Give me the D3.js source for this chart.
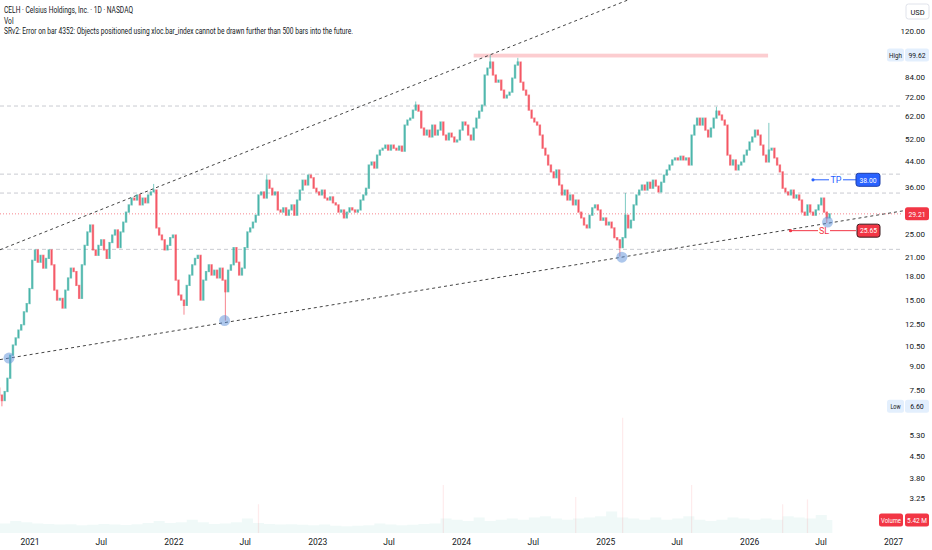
<!DOCTYPE html>
<html><head><meta charset="utf-8">
<script src="https://cdn.jsdelivr.net/npm/d3@7"></script>
<style>body{margin:0;background:#fff}svg{display:block}text{font-family:Roboto,"Liberation Sans",sans-serif;fill:#131722}</style>
</head><body><svg id="c" width="932" height="550"></svg>
<script>
// ---------- DATA ----------
const weekStart = "2020-10-16";
const firstOpen = 7.6;
const closes = [
 7.2,6.9,7.4,8.2,9.8,10.6,11.2,11.9,12.4,13.7,14.6,16.4,20.4,22.1,20.1,21.2,19.2,20.7,22.1,19.7,
 16.2,15.0,15.2,14.1,16.2,17.8,19.2,18.7,16.8,15.2,19.7,22.9,25.4,26.8,22.1,21.2,22.9,23.9,22.1,20.7,
 23.4,24.8,25.8,22.5,25.4,27.4,29.6,31.3,33.0,32.5,33.8,31.3,33.0,31.8,33.8,34.6,35.1,26.2,24.8,23.9,
 22.1,22.9,24.3,24.8,17.5,15.6,15.0,14.4,16.8,18.2,19.7,20.7,21.2,15.0,17.5,18.7,19.7,18.2,18.9,17.8,
 19.2,17.5,16.0,18.9,19.7,22.5,20.1,18.2,19.2,22.5,25.4,26.2,27.4,28.9,33.8,34.6,33.0,37.9,35.6,33.8,
 34.6,30.1,29.6,30.6,28.9,30.1,31.3,28.9,32.5,35.1,37.9,36.5,39.4,38.6,35.6,34.6,33.8,35.1,33.0,32.5,
 33.3,31.8,31.3,29.6,30.1,28.3,29.6,30.6,30.1,29.6,30.1,32.5,33.8,35.6,42.6,43.6,41.6,46.0,47.8,48.5,
 49.7,47.8,49.7,48.5,47.8,49.3,47.4,58.0,60.3,61.2,65.1,67.7,64.6,56.7,53.7,55.8,52.9,58.0,53.7,55.8,
 59.4,53.7,51.7,54.5,52.9,50.9,51.7,55.8,59.4,58.0,53.7,51.7,56.7,61.2,64.6,67.7,85.4,90.1,94.4,85.4,
 80.8,82.1,76.0,71.5,73.1,74.8,83.4,92.2,94.4,80.8,76.0,73.1,65.1,61.2,59.4,58.0,53.7,48.5,46.0,42.6,
 40.4,38.6,41.0,36.5,33.8,35.1,32.5,33.8,31.3,32.5,29.6,28.3,26.8,26.2,28.9,30.6,31.3,30.1,27.8,28.3,
 26.8,27.4,26.2,24.3,23.9,22.5,24.3,28.9,26.2,27.8,31.3,33.8,35.1,36.5,35.1,37.3,35.6,37.9,36.2,34.6,
 37.3,39.4,41.0,42.6,44.3,45.0,44.3,45.6,44.3,45.0,42.6,53.7,58.0,61.2,58.0,61.2,55.8,52.9,56.7,61.2,
 64.6,62.7,60.3,58.0,46.0,42.6,44.3,41.0,42.6,43.6,46.0,47.8,50.9,52.9,55.8,53.7,49.7,46.0,43.6,47.8,
 48.5,45.0,42.6,40.4,35.6,34.6,33.8,35.1,33.0,33.8,32.5,29.6,28.9,31.3,29.6,28.9,30.1,31.3,33.0,29.6,
 28.3,29.21
];
const lowWeeks = [1, 67, 82, 225, 300];
const lowValues = [6.60, 13.4, 12.8, 21.0, 27.2];
const highWeeks = [56, 97, 151, 178, 188, 227, 260, 279];
const highValues = [36.8, 39.5, 69.6, 99.62, 97.5, 34.3, 66.8, 59.0];

// volume (millions), 4-week blocks from weekStart
const volBlocks = [
 4,5,4.5,4,3.8,3.5,3.6,3.2,3.4,3.8,3.5,3.3,3.6,4.2,
 5,4.2,4.5,5.5,4.5,3.8,4,4.5,6,4.2,3.8,3.5,3.6,
 3.4,3.2,3.5,3,2.8,3,3.2,4,3.5,3.2,3.4,3.8,4,
 6,5.5,5,6.5,5,5.5,6,5.5,6.5,7,6,5.5,6,
 6.5,7,9,6.5,6,5.5,6.5,5.5,6,7,5.5,5,5.5,
 6.5,6,5.5,6,5.5,7,6.5,6,7.5,5.42
];
const volSpikeDates = ["2022-08-05","2023-11-17","2024-10-18","2025-02-14","2025-08-08","2026-03-27","2026-05-29"];
const volSpikeValues = [12, 20, 15, 48, 20, 12, 14];
const lastVolume = "5.42 M";

const yTicks = [120,84,72,62,52,44,36,25,21,18,15,12.5,10.5,9,7.5,5.3,4.5,3.8,3.25];
const xTickDates = ["2021-01-01","2021-07-01","2022-01-01","2022-07-01","2023-01-01","2023-07-01","2024-01-01","2024-07-01","2025-01-01","2025-07-01","2026-01-01","2026-07-01","2027-01-01"];
const xTickLabels = ["2021","Jul","2022","Jul","2023","Jul","2024","Jul","2025","Jul","2026","Jul","2027"];

const levelPrices = [67.2, 39.7, 34.3, 22.2];
const zoneDates = ["2024-02-02","2026-02-18"];
const zonePrices = [97.8, 100.7];
const upperDates = ["2021-11-10","2024-03-13"];
const upperPrices = [35.4, 99.62];
const lowerDates = ["2020-11-10","2025-02-12"];
const lowerPrices = [9.58, 20.9];
const touchDates = ["2020-11-10","2022-05-11","2025-02-12","2026-07-19"];
const touchPrices = [9.58, 12.8, 20.9, 27.4];
const lastPrice = 29.21, highPrice = 99.62, lowPrice = 6.60;
const tpPrice = 38.00, slPrice = 25.65;
const tpStart = "2026-06-12", slStart = "2026-04-16";

const title = "CELH · Celsius Holdings, Inc. · 1D · NASDAQ";
const sub1 = "Vol";
const sub2 = "SRv2: Error on bar 4352: Objects positioned using xloc.bar_index cannot be drawn further than 500 bars into the future.";

// ---------- CHART ----------
const svg = d3.select("#c");
const parse = d3.utcParse("%Y-%m-%d");
const paneW = 903;
const x = d3.scaleUtc().domain([parse("2021-01-01"), parse("2027-01-01")]).range([29.5, 893]);
const y = d3.scaleLog().domain([3.25, 120]).range([498, 31]);
const yv = d3.scaleLinear().domain([0, 5.42]).range([533, 520]);

svg.append("defs").append("clipPath").attr("id","pane").append("rect")
  .attr("x",0).attr("y",0).attr("width",paneW).attr("height",550);
const pane = svg.append("g").attr("clip-path","url(#pane)");

const t0 = parse(weekStart);
const candles = closes.map((c,i)=>{
  const o = i ? closes[i-1] : firstOpen;
  let hi = Math.max(o,c), lo = Math.min(o,c);
  const hI = highWeeks.indexOf(i); if (hI>=0) hi = highValues[hI];
  const lI = lowWeeks.indexOf(i); if (lI>=0) lo = lowValues[lI];
  return {date: d3.utcDay.offset(t0, 7*i), open:o, close:c, hi, lo};
});

// volume
const volData = volBlocks.map((v,k)=>({date: d3.utcDay.offset(t0, 28*k), v}));
volData.push({date: d3.utcDay.offset(t0, 7*closes.length), v: volBlocks[volBlocks.length-1]});
pane.append("path").datum(volData)
  .attr("d", d3.area().curve(d3.curveStepAfter).x(d=>x(d.date)).y0(yv(0)).y1(d=>yv(d.v)))
  .attr("fill","#26a69a").attr("fill-opacity",0.07);
pane.selectAll(".vs").data(volSpikeDates).join("line")
  .attr("x1",d=>x(parse(d))).attr("x2",d=>x(parse(d)))
  .attr("y1",yv(0)).attr("y2",(d,i)=>yv(volSpikeValues[i]))
  .attr("stroke","#f23645").attr("stroke-opacity",0.1).attr("stroke-width",1.2);

// zone
pane.append("rect")
  .attr("x", x(parse(zoneDates[0]))).attr("width", x(parse(zoneDates[1]))-x(parse(zoneDates[0])))
  .attr("y", y(zonePrices[1])).attr("height", y(zonePrices[0])-y(zonePrices[1]))
  .attr("fill","#f23645").attr("fill-opacity",0.25);

// level dashed lines
pane.selectAll(".lv").data(levelPrices).join("line")
  .attr("x1",0).attr("x2",paneW).attr("y1",d=>y(d)).attr("y2",d=>y(d))
  .attr("stroke","#c9cbd1").attr("stroke-width",1).attr("stroke-dasharray","4,3");

// last price dotted line
pane.append("line").attr("x1",0).attr("x2",paneW).attr("y1",y(lastPrice)).attr("y2",y(lastPrice))
  .attr("stroke","#f23645").attr("stroke-opacity",0.6).attr("stroke-dasharray","1,2");

// trend lines (extended)
function extLine(dates, prices, xa, xb){
  const x1=x(parse(dates[0])), y1=y(prices[0]), x2=x(parse(dates[1])), y2=y(prices[1]);
  const m=(y2-y1)/(x2-x1);
  return [xa, y1+m*(xa-x1), xb, y1+m*(xb-x1)];
}
const up = extLine(upperDates, upperPrices, 0, paneW);
const lowL = extLine(lowerDates, lowerPrices, 0, paneW);
[up, lowL].forEach(l=>{
  pane.append("line").attr("x1",l[0]).attr("y1",l[1]).attr("x2",l[2]).attr("y2",l[3])
    .attr("stroke","#444").attr("stroke-width",1).attr("stroke-dasharray","3,3");
});

// candles
const cg = pane.append("g");
cg.selectAll(".w").data(candles).join("line")
  .attr("x1",d=>x(d.date)).attr("x2",d=>x(d.date))
  .attr("y1",d=>y(d.hi)).attr("y2",d=>y(d.lo))
  .attr("stroke",d=>d.close>=d.open?"#26a69a":"#f23645").attr("stroke-opacity",0.6).attr("stroke-width",1);
cg.selectAll(".b").data(candles).join("rect")
  .attr("x",d=>x(d.date)-1.2).attr("width",2.4)
  .attr("y",d=>Math.min(y(d.open),y(d.close))-0.6)
  .attr("height",d=>Math.max(1.8, Math.abs(y(d.open)-y(d.close))+1.2))
  .attr("fill",d=>d.close>=d.open?"#26a69a":"#f23645").attr("fill-opacity",0.62);

// touch circles
pane.selectAll(".tc").data(touchDates).join("circle")
  .attr("cx",d=>x(parse(d))).attr("cy",(d,i)=>y(touchPrices[i])).attr("r",5.5)
  .attr("fill","#5b8fd9").attr("fill-opacity",0.5);

// TP / SL
function tradeLine(price, start, color, label, gap0, gap1){
  const yy = y(price), xs = x(parse(start));
  pane.append("line").attr("x1",xs).attr("x2",gap0).attr("y1",yy).attr("y2",yy).attr("stroke",color).attr("stroke-width",1);
  pane.append("line").attr("x1",gap1).attr("x2",856).attr("y1",yy).attr("y2",yy).attr("stroke",color).attr("stroke-width",1);
  pane.append("circle").attr("cx",xs).attr("cy",yy).attr("r",1.6).attr("fill",color);
  pane.append("text").attr("x",(gap0+gap1)/2).attr("y",yy+3).attr("text-anchor","middle")
    .attr("font-size",9).style("fill",color).text(label);
}
tradeLine(tpPrice, tpStart, "#2962ff", "TP", 829, 843);
tradeLine(slPrice, slStart, "#f23645", "SL", 818, 830);

function tagBox(x0, yc, w, fill, txt, stroke, txtColor){
  svg.append("rect").attr("x",x0).attr("y",yc-6.5).attr("width",w).attr("height",13).attr("rx",2.5)
    .attr("fill",fill).attr("stroke",stroke||"none").attr("stroke-width",1);
  svg.append("text").attr("x",x0+w/2).attr("y",yc+2.8).attr("text-anchor","middle").attr("font-size",7.5)
    .attr("textLength", Math.min(w-4, txt.length*3.4)).attr("lengthAdjust","spacingAndGlyphs")
    .style("fill",txtColor||"#fff").text(txt);
}

// price axis ticks
const fmt = d=>d.toFixed(2);
svg.selectAll(".yt").data(yTicks).join("text")
  .attr("x",925).attr("y",d=>y(d)+3).attr("text-anchor","end").attr("font-size",8).text(fmt);

// x axis
const xa = svg.append("g").attr("transform","translate(0,536)")
  .call(d3.axisBottom(x).tickValues(xTickDates.map(parse)).tickSize(0).tickFormat((d,i)=>xTickLabels[i]));
xa.select(".domain").remove();
xa.selectAll("text").attr("font-size",8.5).attr("font-family","Roboto, sans-serif").style("fill","#131722");

// right axis labels (on top)
svg.append("rect").attr("x",906).attr("y",4).attr("width",23).attr("height",15).attr("rx",2.5)
  .attr("fill","#fff").attr("stroke","#e0e3eb");
svg.append("text").attr("x",917.5).attr("y",14.5).attr("text-anchor","middle").attr("font-size",7.5).text("USD");

tagBox(887, y(highPrice), 17, "#e3effd", "High", null, "#131722");
tagBox(905, y(highPrice), 24, "#e3effd", fmt(highPrice), null, "#131722");
tagBox(887, y(lowPrice), 17, "#e3effd", "Low", null, "#131722");
tagBox(905, y(lowPrice), 24, "#e3effd", fmt(lowPrice), null, "#131722");
tagBox(905, y(lastPrice), 24, "#f23645", fmt(lastPrice));
tagBox(879, yv(5.42), 24, "#f23645", "Volume");
tagBox(905, yv(5.42), 24, "#f23645", lastVolume);
tagBox(856, y(tpPrice), 24, "#2962ff", fmt(tpPrice), "#1e3fa8");
tagBox(857, y(slPrice), 23, "#f23645", fmt(slPrice), "#3a1a1e");

// header
svg.append("text").attr("x",4).attr("y",12.5).attr("font-size",8.5).attr("textLength",129).attr("lengthAdjust","spacingAndGlyphs").text(title);
svg.append("text").attr("x",4).attr("y",23.5).attr("font-size",8.5).attr("textLength",9.5).attr("lengthAdjust","spacingAndGlyphs").text(sub1);
svg.append("text").attr("x",4).attr("y",34).attr("font-size",8.5).attr("textLength",349).attr("lengthAdjust","spacingAndGlyphs").text(sub2);
</script></body></html>
